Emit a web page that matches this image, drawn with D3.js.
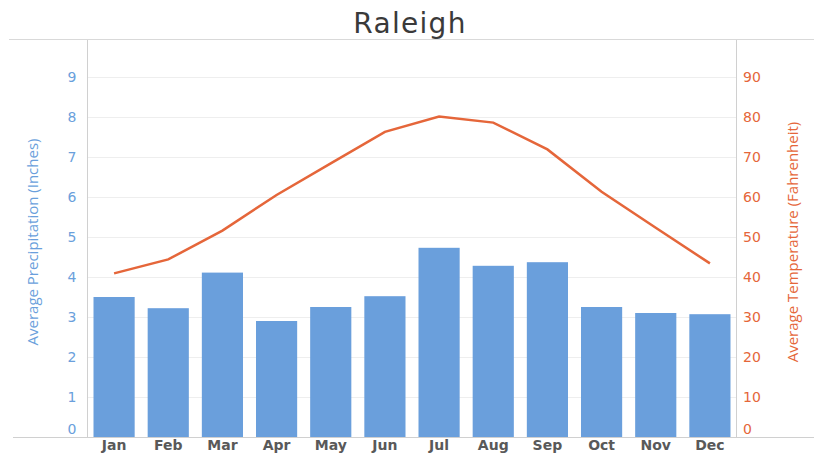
<!DOCTYPE html>
<html>
<head>
<meta charset="utf-8">
<script src="https://cdnjs.cloudflare.com/ajax/libs/d3/7.8.5/d3.min.js"></script>
<style>
  body { margin: 0; background: #fff; }
</style>
</head>
<body>
<div id="chart"></div>
<script>
var months = ["Jan", "Feb", "Mar", "Apr", "May", "Jun", "Jul", "Aug", "Sep", "Oct", "Nov", "Dec"];
var precipitation = [3.5, 3.22, 4.11, 2.9, 3.25, 3.52, 4.73, 4.28, 4.37, 3.25, 3.1, 3.07];
var temperature = [40.9, 44.4, 51.6, 60.5, 68.4, 76.3, 80.1, 78.6, 71.9, 61.3, 52.3, 43.4];
var precipTicks = [0, 1, 2, 3, 4, 5, 6, 7, 8, 9];
var tempTicks = [0, 10, 20, 30, 40, 50, 60, 70, 80, 90];

var svgWidth = 814;
var svgHeight = 454;

var margin = {
    top: 40,
    right: 77,
    bottom: 17,
    left: 87
};

var width = svgWidth - margin.left - margin.right;
var height = svgHeight - margin.top - margin.bottom;

var blue = "#6a9fdc";
var orange = "#e5663a";

var svg = d3.select("#chart")
    .append("svg")
    .attr("width", svgWidth)
    .attr("height", svgHeight);

// title + top rule
svg.append("text")
    .attr("x", 410)
    .attr("y", 33)
    .attr("text-anchor", "middle")
    .attr("font-family", "DejaVu Sans")
    .attr("font-size", "28px")
    .attr("letter-spacing", "1.3px")
    .attr("fill", "#3a3a3a")
    .text("Raleigh");

svg.append("line")
    .attr("x1", 9).attr("x2", svgWidth)
    .attr("y1", 39.5).attr("y2", 39.5)
    .attr("stroke", "#d9d9d9");

var chartGroup = svg.append("g")
    .attr("transform", `translate(${margin.left}, ${margin.top})`);

var xScale = d3.scaleBand()
    .domain(months)
    .range([0, width])
    .paddingInner(0.24)
    .paddingOuter(0.12);

var yLeft = d3.scaleLinear()
    .domain([0, 9])
    .range([height, 37]);

var yRight = d3.scaleLinear()
    .domain([0, 90])
    .range([height, 37]);

// gridlines
chartGroup.append("g")
    .selectAll("line")
    .data(precipTicks.slice(1))
    .enter()
    .append("line")
    .attr("x1", 0)
    .attr("x2", width)
    .attr("y1", d => Math.round(yLeft(d)) + 0.5)
    .attr("y2", d => Math.round(yLeft(d)) + 0.5)
    .attr("stroke", "#eeeeee");

// bars
chartGroup.selectAll(".bar")
    .data(precipitation)
    .enter()
    .append("rect")
    .attr("class", "bar")
    .attr("x", (d, i) => xScale(months[i]))
    .attr("width", xScale.bandwidth())
    .attr("y", d => yLeft(d))
    .attr("height", d => height - yLeft(d))
    .attr("fill", blue);

// temperature line
var line = d3.line()
    .x((d, i) => xScale(months[i]) + xScale.bandwidth() / 2)
    .y(d => yRight(d));

chartGroup.append("path")
    .datum(temperature)
    .attr("d", line)
    .attr("fill", "none")
    .attr("stroke", orange)
    .attr("stroke-width", 2.5);

// axes
var leftAxis = d3.axisLeft(yLeft).tickValues(precipTicks).tickSize(0).tickPadding(15);
var rightAxis = d3.axisRight(yRight).tickValues(tempTicks).tickSize(0).tickPadding(6);
var bottomAxis = d3.axisBottom(xScale).tickSize(0).tickPadding(3);

var gLeft = chartGroup.append("g").call(leftAxis);
gLeft.select(".domain").remove();
gLeft.selectAll("text")
    .attr("fill", blue)
    .attr("text-anchor", "middle")
    .attr("font-family", "DejaVu Sans")
    .attr("font-size", "14px");

var gRight = chartGroup.append("g")
    .attr("transform", `translate(${width}, 0)`)
    .call(rightAxis);
gRight.select(".domain").remove();
gRight.selectAll("text")
    .attr("fill", orange)
    .attr("font-family", "DejaVu Sans")
    .attr("font-size", "14px");

// zero labels sit a little above the baseline
gLeft.selectAll(".tick").filter(d => d === 0).select("text").attr("dy", "-0.25em").attr("x", -15);
gRight.selectAll(".tick").filter(d => d === 0).select("text").attr("dy", "-0.25em");

var gBottom = chartGroup.append("g")
    .attr("transform", `translate(0, ${height})`)
    .call(bottomAxis);
gBottom.select(".domain").remove();
gBottom.selectAll("text")
    .attr("fill", "#595959")
    .attr("font-family", "DejaVu Sans")
    .attr("font-weight", "bold")
    .attr("font-size", "14px");

// frame lines
chartGroup.append("line")
    .attr("x1", 0.5).attr("x2", 0.5)
    .attr("y1", 0).attr("y2", height)
    .attr("stroke", "#d0d0d0");
chartGroup.append("line")
    .attr("x1", width - 0.5).attr("x2", width - 0.5)
    .attr("y1", 0).attr("y2", height)
    .attr("stroke", "#d0d0d0");
chartGroup.append("line")
    .attr("x1", 13 - margin.left).attr("x2", svgWidth - margin.left)
    .attr("y1", height + 0.5).attr("y2", height + 0.5)
    .attr("stroke", "#d0d0d0");

// axis titles
svg.append("text")
    .attr("transform", `translate(38, 242) rotate(-90)`)
    .attr("text-anchor", "middle")
    .attr("font-family", "Open Sans")
    .attr("font-size", "15px")
    .attr("fill", blue)
    .text("Average Precipitation (Inches)");

svg.append("text")
    .attr("transform", `translate(798, 242) rotate(-90)`)
    .attr("text-anchor", "middle")
    .attr("font-family", "Open Sans")
    .attr("font-size", "15px")
    .attr("fill", orange)
    .text("Average Temperature (Fahrenheit)");
</script>
</body>
</html>
